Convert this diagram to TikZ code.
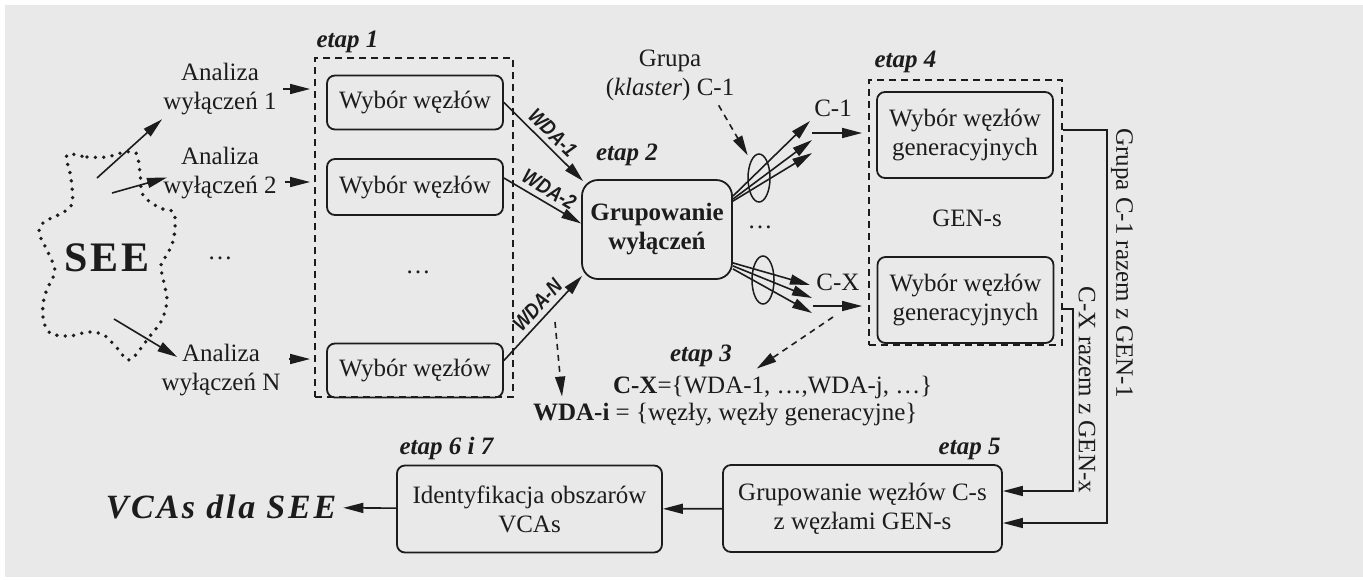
\documentclass[tikz,border=0pt]{standalone}
\usepackage{fontspec}
\setmainfont{Liberation Serif}
\newfontfamily\wdafont[FakeStretch=0.85]{Liberation Sans}
\usepackage{tikz}
\usetikzlibrary{arrows.meta, positioning, shapes.geometric}
\definecolor{seeBg}{HTML}{E9E9E9}
\definecolor{seeInk}{HTML}{1C1C1C}
\newcommand{\seefs}{\fontsize{12.5}{14.5}\selectfont}

\begin{document}
\begin{tikzpicture}[
  x=0.5pt, y=-0.5pt,
  every node/.style={font=\seefs, text=seeInk},
  box/.style={draw=seeInk, rounded corners=4pt, line width=0.9pt, align=center, inner sep=2pt},
  dbox/.style={draw=seeInk, line width=0.9pt, dash pattern=on 3.5pt off 2.5pt, inner sep=0pt},
  arr/.style={draw=seeInk, line width=0.8pt, -{Triangle[length=10pt,width=5pt]}},
  darr/.style={arr, dash pattern=on 3pt off 2.5pt},
  etap/.style={font=\seefs\bfseries\itshape, inner sep=0pt},
  wda/.style={font=\wdafont\fontsize{10.5}{11}\selectfont\bfseries\itshape, sloped, above, inner sep=2.5pt},
  lbl/.style={align=center, inner sep=2pt},
  ell/.style={draw=seeInk, ellipse, line width=0.75pt, minimum width=11pt, minimum height=24pt, inner sep=0pt}
]
  \useasboundingbox (0,0) rectangle (1363,579);
  \fill[seeBg] (5,5) rectangle (1363,577);

  % SEE cloud
  \draw[seeInk, line width=1.9pt, line cap=round, dash pattern=on 0pt off 4.2pt]
    plot[smooth cycle, tension=0.55] coordinates {
      (67,155) (87,157) (107,157) (121,153) (136,153) (140,173) (143,195)
      (160,208) (174,213) (174,237) (168,253) (161,265) (164,283) (167,300)
      (162,320) (150,336) (130,360) (118,349) (104,335) (88,332) (70,336)
      (50,333) (43,318) (44,298) (50,283) (55,270) (47,250) (39,233)
      (44,222) (60,214) (72,204) (71,178)};
  \node[font=\fontsize{21}{24}\selectfont\bfseries\addfontfeature{LetterSpace=6}] (see) at (107,258) {SEE};

  \node[lbl] (an1) at (220,89) {Analiza\\wyłączeń 1};
  \node[lbl] (an2) at (220,173.5) {Analiza\\wyłączeń 2};
  \node[lbl] (anN) at (221,370) {Analiza\\wyłączeń N};
  \node (dots1) at (220,258) {…};

  \coordinate (s1) at (97,178);
  \coordinate (s2) at (112,193);
  \coordinate (sN) at (114,319);
  \draw[arr] (s1) -- ([xshift=1.5pt]an1.south west);
  \draw[arr] (s2) -- ([shift={(4pt,-2pt)}]an2.west);
  \draw[arr] (sN) -- ([shift={(10pt,6.5pt)}]anN.west);

  % etap 1
  \node[dbox, minimum width=99pt, minimum height=169.5pt] (e1box) at (414,227.5) {};
  \node[etap, anchor=base west] at ([shift={(1pt,5pt)}]e1box.north west) {etap 1};
  \node[box, minimum width=88pt, minimum height=27pt] (w1) at (415,102.5) {Wybór węzłów};
  \node[box, minimum width=88pt, minimum height=28pt] (w2) at (415,187) {Wybór węzłów};
  \node[box, minimum width=88pt, minimum height=27pt] (wN) at (415,370.5) {Wybór węzłów};
  \node (dots2) at (418,272) {…};

  \draw[arr, shorten >=2pt] ([xshift=1pt]an1.east) -- (an1.east -| e1box.west);
  \draw[arr, shorten >=2pt] ([shift={(2pt,-4.25pt)}]an2.east) -- ([yshift=-4.25pt]an2.east -| e1box.west);
  \draw[arr, shorten >=2pt] ([shift={(2pt,5.5pt)}]anN.east) -- ([yshift=5.5pt]anN.east -| e1box.west);

  % etap 2
  \node[box, rounded corners=8pt, minimum width=75pt, minimum height=49.5pt, font=\seefs\bfseries] (grp) at (657,229.5) {Grupowanie\\wyłączeń};
  \node[etap, anchor=base] at (627,160) {etap 2};

  \draw[arr] (w1.east) -- node[wda] {WDA-1} ([shift={(1pt,-1pt)}]grp.north west);
  \draw[arr] ([yshift=4.5pt]w2.east) -- node[wda] {WDA-2} ([yshift=3pt]grp.west);
  \draw[arr] ([yshift=5pt]wN.east) -- node[wda, pos=0.55] {WDA-N} ([shift={(0.5pt,2pt)}]grp.south west);

  % clusters
  \node[lbl] (grupa) at (670,75.5) {Grupa\\(\textit{klaster}) C-1};
  \node[ell] (ell1) at (759,178) {};
  \node[ell] (ellX) at (763,280) {};
  \draw[darr, shorten >=3pt] ([xshift=-10pt]grupa.south east) -- (ell1.north west);
  \node (dots3) at (760,227) {…};

  \coordinate (c1a) at (810,121);
  \coordinate (c1b) at (812,140);
  \coordinate (c1c) at (812,153);
  \coordinate (cxa) at (810,285);
  \coordinate (cxb) at (812,298);
  \coordinate (cxc) at (812,313);
  \foreach \dy/\tip in {-8.5pt/c1a, -10pt/c1b, -11pt/c1c}
    \draw[arr] ([yshift=\dy]grp.north east) -- (\tip);
  \foreach \dy/\tip in {8.5pt/cxa, 7pt/cxb, 5.5pt/cxc}
    \draw[arr] ([yshift=\dy]grp.south east) -- (\tip);

  % etap 4
  \node[dbox, minimum width=96.5pt, minimum height=132.5pt] (e4box) at (965.5,212.5) {};
  \node[etap, anchor=base west] at ([shift={(3pt,6pt)}]e4box.north west) {etap 4};
  \node[box, minimum width=88pt, minimum height=43pt] (gen1) at (965,135) {Wybór węzłów\\generacyjnych};
  \node[box, minimum width=88pt, minimum height=43pt] (gen2) at (965.5,300) {Wybór węzłów\\generacyjnych};
  \node (gens) at (967,218) {GEN-s};

  \node (c1l) at (833,108) {C-1};
  \node (cxl) at (838,282) {C-X};
  \coordinate (c1s) at (812,133);
  \coordinate (cxs) at (813,306);
  \draw[arr, shorten >=3pt] (c1s) -- (c1s -| e4box.west);
  \draw[arr, shorten >=3pt] (cxs) -- (cxs -| e4box.west);

  % etap 3
  \node[etap, anchor=base] at (701,361) {etap 3};
  \node[anchor=west] (cxset) at (606,387) {\textbf{C-X}=\{WDA-1, …,WDA-j, …\}};
  \node[anchor=west] (wdai) at (526,415) {\textbf{WDA-i} = \{węzły, węzły generacyjne\}};
  \coordinate (cxq) at (833,317);
  \coordinate (wdaq) at (555,322);
  \draw[darr] (cxq) -- ([xshift=-8pt]cxset.north);
  \draw[darr] (wdaq) -- ([xshift=18pt]wdai.north west);

  % etap 5, 6 i 7
  \node[box, minimum width=139.5pt, minimum height=43.5pt] (grw) at (862.5,508.5) {Grupowanie węzłów C-s\\z węzłami GEN-s};
  \node[etap, anchor=base east] at ([shift={(-1pt,5pt)}]grw.north east) {etap 5};
  \node[box, minimum width=132.5pt, minimum height=43.5pt] (idf) at (529.5,509) {Identyfikacja obszarów\\VCAs};
  \node[etap, anchor=base west] at ([shift={(1.5pt,5pt)}]idf.north west) {etap 6 i 7};
  \node[font=\fontsize{17}{20}\selectfont\bfseries\itshape\addfontfeature{LetterSpace=8}] (vcas) at (221,507) {VCAs dla SEE};
  \draw[arr] (grw) -- (idf);
  \draw[arr] (idf) -- (vcas);

  % feedback lines
  \coordinate (r1) at (1107,523);
  \coordinate (r2) at (1073,491);
  \draw[arr] ([yshift=2.5pt]gen1.east -| e4box.east) -| (r1) -- (r1 -| grw.east);
  \draw[arr] ([yshift=-4.5pt]gen2.east -| e4box.east) -| (r2) -- (r2 -| grw.east);
  \node[rotate=-90] (lab1) at (1122,263) {Grupa C-1 razem z GEN-1};
  \node[rotate=-90] (labx) at (1087,390) {C-X razem z GEN-x};
\end{tikzpicture}
\end{document}
